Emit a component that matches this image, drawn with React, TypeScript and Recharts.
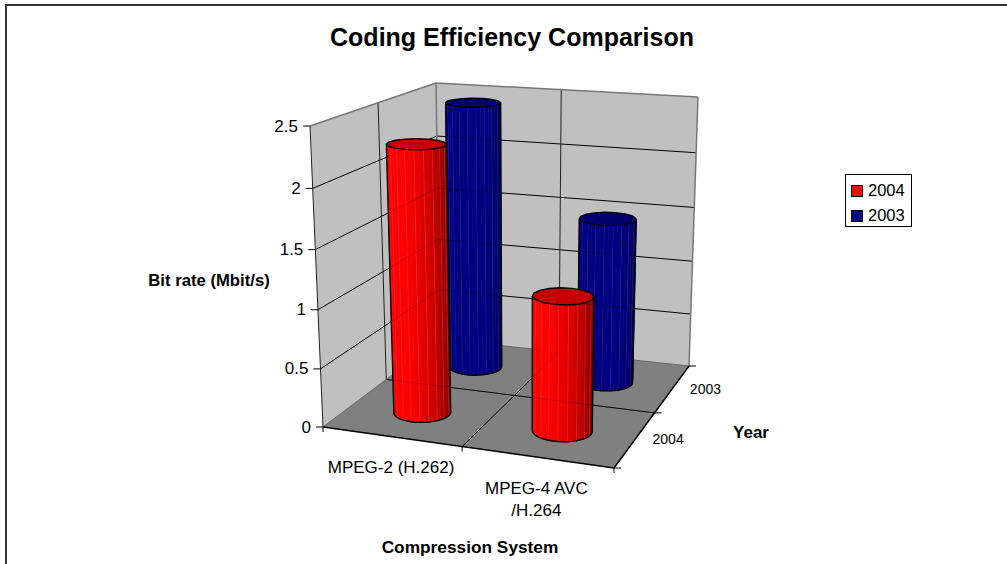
import { BarChart, Bar, XAxis, YAxis, Legend } from 'recharts'

const CHART_W = 1007
const CHART_H = 564
const FONT = '"Liberation Sans", Arial, sans-serif'

const categories = ['MPEG-2 (H.262)', 'MPEG-4 AVC\n/H.264']
const series2004 = [2.3, 1.15]
const series2003 = [2.45, 1.5]
const yTicks = [0, 0.5, 1, 1.5, 2, 2.5]
const yMax = 2.5
const depthLabels = ['2004', '2003']

const data = categories.map((system, i) => ({
  system,
  y2004: series2004[i],
  y2003: series2003[i],
}))

// box corners in screen px: floor then ceiling, front-left going round
type Pt = [number, number]
const floorBox: Pt[] = [[323, 427], [614, 468], [689, 366], [440, 339]]
const topBox: Pt[] = [[310, 126], [620, 152], [698, 97], [436, 83]]

const mix = (a: Pt, b: Pt, t: number): Pt => [a[0] + (b[0] - a[0]) * t, a[1] + (b[1] - a[1]) * t]
const warp = (t: number, k: number) => t / (1 + k * (1 - t))

// u along categories, d into the depth, v up (all 0..1)
function project(u: number, d: number, v: number): Pt {
  const U = warp(u, 0.092)
  const D = warp(d, -0.15)
  const V = warp(v, 0.045)
  const low = mix(mix(floorBox[0], floorBox[1], U), mix(floorBox[3], floorBox[2], U), D)
  const high = mix(mix(topBox[0], topBox[1], U), mix(topBox[3], topBox[2], U), D)
  return mix(low, high, V)
}

const pts = (list: Pt[]) => list.map((p) => `${p[0].toFixed(1)},${p[1].toFixed(1)}`).join(' ')

function GridLine({ a, b, color = '#000', w = 1 }: { a: Pt; b: Pt; color?: string; w?: number }) {
  return <line x1={a[0]} y1={a[1]} x2={b[0]} y2={b[1]} stroke={color} strokeWidth={w} />
}

function Label({ x, y, size, bold, children }: any) {
  return (
    <text x={x} y={y} textAnchor="middle" dominantBaseline="central" fontFamily={FONT} fontSize={size} fontWeight={bold ? 700 : 400} fill="#000">
      {children}
    </text>
  )
}

function GridLines() {
  return (
    <>
      {yTicks.slice(1, -1).map((t) => (
        <g key={t}>
          <GridLine a={project(0, 0, t / yMax)} b={project(0, 1, t / yMax)} />
          <GridLine a={project(0, 1, t / yMax)} b={project(1, 1, t / yMax)} />
        </g>
      ))}
      <GridLine a={project(0, 0.5, 0)} b={project(0, 0.5, 1)} color="#222" />
      <GridLine a={project(0.5, 1, 0)} b={project(0.5, 1, 1)} color="#222" />
      <GridLine a={project(0.5, 0, 0)} b={project(0.5, 1, 0)} />
      <GridLine a={project(0, 0.5, 0)} b={project(1, 0.5, 0)} />
    </>
  )
}

function Walls() {
  return (
    <g>
      <rect x={0} y={0} width={CHART_W} height={CHART_H} fill="#fff" />
      <line x1={6} y1={5} x2={CHART_W} y2={5} stroke="#333" strokeWidth={2} />
      <line x1={6} y1={4} x2={6} y2={CHART_H} stroke="#333" strokeWidth={2} />

      <polygon points={pts([project(0, 0, 0), project(0, 1, 0), project(0, 1, 1), project(0, 0, 1)])} fill="#c0c0c0" />
      <polygon points={pts([project(0, 1, 0), project(1, 1, 0), project(1, 1, 1), project(0, 1, 1)])} fill="#c0c0c0" />
      <polygon points={pts([project(0, 0, 0), project(1, 0, 0), project(1, 1, 0), project(0, 1, 0)])} fill="#808080" />

      <GridLines />

      <GridLine a={project(0, 0, 1)} b={project(0, 1, 1)} color="#777" w={1.5} />
      <GridLine a={project(0, 1, 1)} b={project(1, 1, 1)} color="#777" w={1.5} />
      <GridLine a={project(1, 1, 1)} b={project(1, 1, 0)} color="#777" w={1.5} />
      <GridLine a={project(0, 1, 1)} b={project(0, 1, 0)} color="#777" w={1.5} />
      <GridLine a={project(0, 1, 0)} b={project(1, 1, 0)} color="#666" />
      <GridLine a={project(0, 0, 0)} b={project(0, 1, 0)} color="#666" />
      <GridLine a={project(0, 0, 0)} b={project(0, 0, 1)} color="#222" />
      <GridLine a={project(0, 0, 0)} b={project(1, 0, 0)} w={1.5} />
      <GridLine a={project(1, 0, 0)} b={project(1, 1, 0)} w={1.5} />

      {[0, 0.5, 1].map((u) => {
        const p = project(u, 0, 0)
        return <GridLine key={u} a={p} b={[p[0], p[1] + 5]} />
      })}
      {[0, 0.5, 1].map((d) => {
        const p = project(1, d, 0)
        return <GridLine key={d} a={p} b={[p[0] + 7, p[1]]} />
      })}
      {depthLabels.map((name, i) => {
        const p = project(1, i * 0.5 + 0.25, 0)
        return (
          <Label key={name} x={p[0] + 33} y={p[1]} size={14}>
            {name}
          </Label>
        )
      })}

      <Label x={512} y={37} size={25} bold>Coding Efficiency Comparison</Label>
      <Label x={209} y={280} size={16.7} bold>Bit rate (Mbit/s)</Label>
      <Label x={751} y={432} size={17} bold>Year</Label>
      <Label x={470} y={547} size={17.3} bold>Compression System</Label>
    </g>
  )
}

function ValueTick({ y, payload }: any) {
  const p = project(0, 0, (CHART_H - y) / CHART_H)
  return (
    <g>
      <GridLine a={[p[0] - 7, p[1]]} b={p} />
      <text x={p[0] - 12} y={p[1]} textAnchor="end" dominantBaseline="central" fontFamily={FONT} fontSize={17} fill="#000">
        {payload.value}
      </text>
    </g>
  )
}

function CategoryTick({ x, payload }: any) {
  const p = project(x / CHART_W, 0, 0)
  return (
    <g>
      {String(payload.value).split('\n').map((line, i) => (
        <Label key={line} x={p[0]} y={p[1] + 31 + i * 22} size={17}>
          {line}
        </Label>
      ))}
    </g>
  )
}

const STEPS = 40
const RU = 0.098
const RD = 0.095

function ring(u: number, d: number, v: number, n: number): Pt[] {
  const out: Pt[] = []
  for (let i = 0; i < n; i++) {
    const t = (i / n) * Math.PI * 2
    out.push(project(u + RU * Math.cos(t), d + RD * Math.sin(t), v))
  }
  return out
}

// walk from the leftmost to the rightmost point along the camera side
function frontArc(u: number, d: number, v: number): Pt[] {
  const all = ring(u, d, v, STEPS)
  let l = 0
  let r = 0
  all.forEach((p, i) => {
    if (p[0] < all[l][0]) l = i
    if (p[0] > all[r][0]) r = i
  })
  const arc: Pt[] = []
  for (let i = l; ; i = (i + 1) % STEPS) {
    arc.push(all[i])
    if (i === r) break
  }
  return arc
}

function shadeRed(s: number) {
  if (s < 0.25) return '#ff0000'
  if (s < 0.7) return `rgb(${Math.round(255 - (s - 0.25) * 110)},0,0)`
  return `rgb(${Math.round(205 - (s - 0.7) * 215)},0,0)`
}

function shadeBlue(s: number) {
  if (s < 0.7) return '#000080'
  return `rgb(0,0,${Math.round(128 - (s - 0.7) * 110)})`
}

function Cylinder({ x, width, height, depth, shade, cap, streak, index }: any) {
  const u = (x + width / 2) / CHART_W + 0.008
  const v = height / CHART_H
  const lo = frontArc(u, depth, 0)
  const hi = frontArc(u, depth, v)
  const left = lo[0][0]
  const span = lo[lo.length - 1][0] - left
  const clipId = `body-${depth}-${index}`
  const strips = lo.slice(0, -1).map((p, i) => {
    const c = shade((p[0] - left) / span)
    return <polygon key={i} points={pts([p, lo[i + 1], hi[i + 1], hi[i]])} fill={c} stroke={c} strokeWidth={0.6} />
  })
  const streaks = lo.map((p, i) =>
    i % 2 === 1 && i < lo.length - 1 ? (
      <line key={i} x1={p[0]} y1={p[1]} x2={hi[i][0]} y2={hi[i][1]} stroke={streak} strokeOpacity={0.25} strokeWidth={0.8} />
    ) : null,
  )
  return (
    <g>
      <clipPath id={clipId}>
        <polygon points={pts([...lo, ...[...hi].reverse()])} />
      </clipPath>
      {strips}
      {streaks}
      {/* the reference shows the wall grid very faintly through the bars */}
      <g clipPath={`url(#${clipId})`} opacity={0.16}>
        <GridLines />
      </g>
      <polyline points={pts([hi[0], ...lo, hi[hi.length - 1]])} fill="none" stroke="#000" strokeWidth={1.4} />
      <polygon points={pts(ring(u, depth, v, 16))} fill={cap} stroke="#000" strokeWidth={1.4} />
    </g>
  )
}

function LegendBox({ payload }: any) {
  const rows = [...(payload ?? [])].reverse()
  return (
    <div style={{ width: 67, height: 53, boxSizing: 'border-box', border: '1px solid #000', background: '#fff', fontFamily: FONT, fontSize: 16.5, color: '#000', paddingTop: 3 }}>
      {rows.map((row: any) => (
        <div key={row.value} style={{ display: 'flex', alignItems: 'center', height: 25, paddingLeft: 5 }}>
          <span style={{ width: 10, height: 10, background: row.color, border: '1px solid #000', marginRight: 5 }} />
          {row.value}
        </div>
      ))}
    </div>
  )
}

export default function App() {
  return (
    <div style={{ position: 'absolute', left: 0, top: 0, width: CHART_W, height: CHART_H, background: '#fff' }}>
      <BarChart width={CHART_W} height={CHART_H} data={data} margin={{ top: 0, right: 0, bottom: 0, left: 0 }} barSize={40} barGap={-40}>
        <Walls />
        <XAxis dataKey="system" mirror height={30} interval={0} axisLine={false} tickLine={false} tick={CategoryTick} />
        <YAxis mirror width={60} domain={[0, yMax]} ticks={yTicks} interval={0} axisLine={false} tickLine={false} tick={ValueTick} />
        <Legend
          layout="vertical"
          align="center"
          verticalAlign="middle"
          content={LegendBox}
          wrapperStyle={{ position: 'absolute', left: 845, top: 174, width: 67 }}
        />
        <Bar
          dataKey="y2003"
          name="2003"
          fill="#000080"
          isAnimationActive={false}
          shape={(p: any) => <Cylinder {...p} depth={0.74} shade={shadeBlue} cap="#000070" streak="#5050c0" />}
        />
        <Bar
          dataKey="y2004"
          name="2004"
          fill="#ff0000"
          isAnimationActive={false}
          shape={(p: any) => <Cylinder {...p} depth={0.24} shade={shadeRed} cap="#c40000" streak="#ff8080" />}
        />
      </BarChart>
    </div>
  )
}
